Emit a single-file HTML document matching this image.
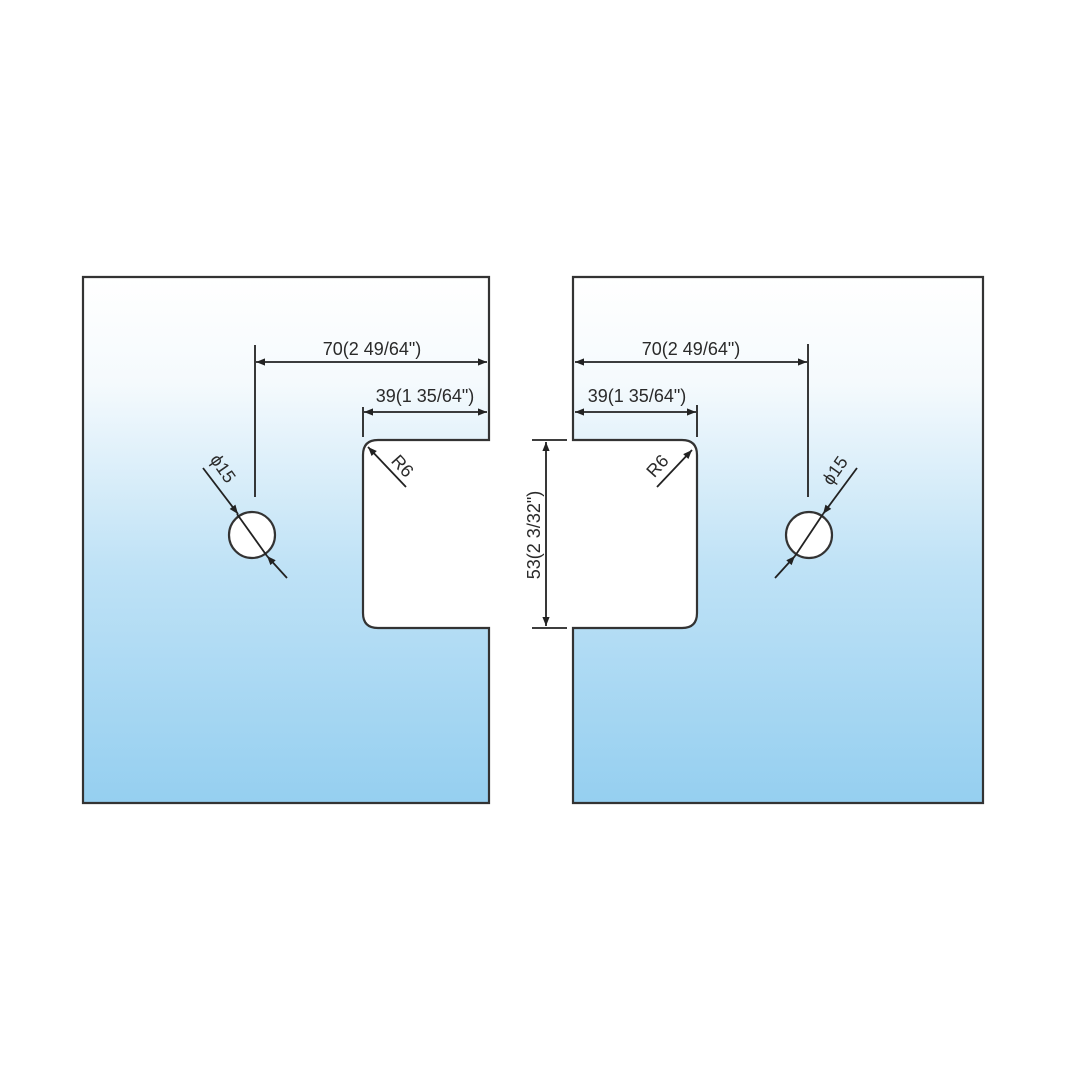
<!DOCTYPE html>
<html><head><meta charset="utf-8"><style>html,body{margin:0;padding:0;background:#fff}svg{display:block}</style></head>
<body>
<svg width="1080" height="1080" viewBox="0 0 1080 1080" xmlns="http://www.w3.org/2000/svg" font-family="Liberation Sans, sans-serif">
<defs>
<linearGradient id="g" x1="0" y1="277" x2="0" y2="803" gradientUnits="userSpaceOnUse">
<stop offset="0" stop-color="#ffffff"/>
<stop offset="0.2" stop-color="#f5fafd"/>
<stop offset="0.55" stop-color="#bfe2f6"/>
<stop offset="1" stop-color="#95cff0"/>
</linearGradient>
<marker id="a" viewBox="0 0 10 10" refX="10" refY="5" markerWidth="14" markerHeight="9" markerUnits="userSpaceOnUse" orient="auto-start-reverse"><path d="M0,1 L10,5 L0,9 Z" fill="#222"/></marker>
</defs>
<g stroke="#333" stroke-width="2.2" fill="url(#g)">
<path d="M83,277 H489 V440 H378 Q363,440 363,455 V613 Q363,628 378,628 H489 V803 H83 Z"/>
<path d="M573,277 H983 V803 H573 V628 H682 Q697,628 697,613 V455 Q697,440 682,440 H573 Z"/>
<circle cx="252" cy="535" r="23" fill="#fff"/>
<circle cx="809" cy="535" r="23" fill="#fff"/>
</g>
<g stroke="#222" stroke-width="1.8" fill="none">
<line x1="255" y1="345" x2="255" y2="497"/>
<line x1="256" y1="362" x2="487" y2="362" marker-start="url(#a)" marker-end="url(#a)"/>
<line x1="363" y1="407" x2="363" y2="437"/>
<line x1="364" y1="412" x2="487" y2="412" marker-start="url(#a)" marker-end="url(#a)"/>
<line x1="808" y1="344" x2="808" y2="497"/>
<line x1="575" y1="362" x2="807" y2="362" marker-start="url(#a)" marker-end="url(#a)"/>
<line x1="697" y1="405" x2="697" y2="437"/>
<line x1="575" y1="412" x2="696" y2="412" marker-start="url(#a)" marker-end="url(#a)"/>
<line x1="532" y1="440" x2="567" y2="440"/>
<line x1="532" y1="628" x2="567" y2="628"/>
<line x1="546" y1="442" x2="546" y2="626" marker-start="url(#a)" marker-end="url(#a)"/>
<line x1="203" y1="468" x2="238" y2="514" marker-end="url(#a)"/>
<line x1="237" y1="514" x2="267" y2="556"/>
<line x1="287" y1="578" x2="267" y2="556" marker-end="url(#a)"/>
<line x1="857" y1="468" x2="823" y2="514" marker-end="url(#a)"/>
<line x1="823" y1="514" x2="795" y2="556"/>
<line x1="775" y1="578" x2="795" y2="556" marker-end="url(#a)"/>
<line x1="406" y1="487" x2="368" y2="447" marker-end="url(#a)"/>
<line x1="657" y1="487" x2="692" y2="450" marker-end="url(#a)"/>
</g>
<g fill="#2a2a2a" font-size="18">
<text x="372" y="355" text-anchor="middle">70(2 49/64")</text>
<text x="425" y="402" text-anchor="middle">39(1 35/64")</text>
<text x="691" y="355" text-anchor="middle">70(2 49/64")</text>
<text x="637" y="402" text-anchor="middle">39(1 35/64")</text>
<text transform="translate(540,535) rotate(-90)" text-anchor="middle">53(2 3/32")</text>
<text transform="translate(218,472) rotate(55)" text-anchor="middle">ϕ15</text>
<text transform="translate(840,474) rotate(-55)" text-anchor="middle">ϕ15</text>
<text transform="translate(398,470) rotate(48)" text-anchor="middle">R6</text>
<text transform="translate(662,470) rotate(-48)" text-anchor="middle">R6</text>
</g>
</svg>
</body></html>
